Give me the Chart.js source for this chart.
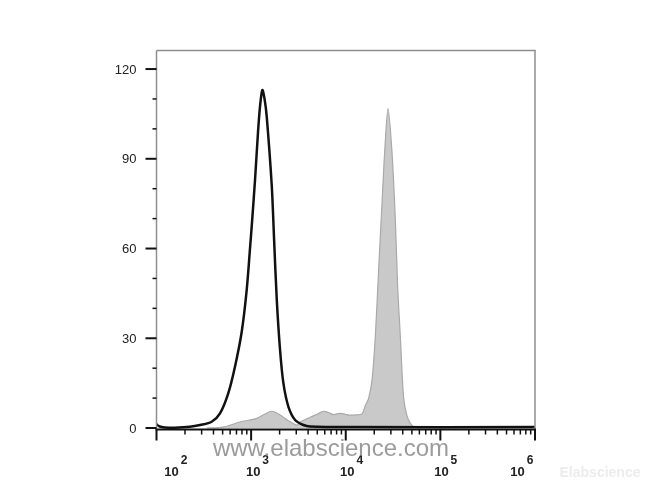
<!DOCTYPE html>
<html>
<head>
<meta charset="utf-8">
<script src="https://cdn.jsdelivr.net/npm/chart.js@4.4.1/dist/chart.umd.min.js"></script>
<style>
  html, body { margin: 0; padding: 0; background: #fff; }
  #wrap { width: 666px; height: 500px; }
</style>
</head>
<body>
<div id="wrap"><canvas id="histChart" width="666" height="500"></canvas></div>
<script>
// isotype control (black outline) - fluorescence intensity vs count
const controlX = [100, 108, 122, 156, 225, 289, 383, 469, 573, 675, 794, 897, 973, 1023, 1100, 1183, 1242, 1314, 1387, 1463, 1652, 1749, 1866, 2023, 2193, 2479, 2917, 3573, 4207, 11170, 1000000];
const controlY = [1.2, 0.5, 0.2, 0.1, 0.4, 1.0, 2.1, 4.9, 11.6, 20.5, 32, 46, 60, 69, 83, 99, 107.5, 113, 110, 104, 81, 63, 43, 26, 15, 7.1, 2.7, 1.0, 0.5, 0.3, 0.3];

// stained sample (grey filled)
const stainedX = [339, 504, 762, 1146, 1371, 1652, 1977, 2383, 2799, 3062, 3296, 4207, 4989, 5823, 6530, 7433, 8750, 9890, 11170, 12900, 14850, 16110, 17460, 18960, 20530, 22250, 24160, 25760, 27980, 30840, 33430, 35370, 37760, 40930, 44430, 48180, 52240, 61500];
const stainedY = [0, 0.3, 2.0, 3.2, 4.5, 5.6, 4.6, 2.8, 1.5, 1.0, 2.0, 3.6, 4.6, 5.6, 5.2, 4.5, 4.9, 4.6, 4.3, 4.4, 4.7, 7.5, 10, 16, 30.5, 52.8, 75, 92, 106.8, 92, 69.5, 47.2, 30.5, 10, 4.0, 1.6, 0.4, 0];

const yTickLabels = [0, 30, 60, 90, 120];
const yMinorTicks = [10, 20, 40, 50, 70, 80, 100, 110];
const xDecades = [2, 3, 4, 5, 6];

const FONT = '"Liberation Sans", Arial, Helvetica, sans-serif';

const toPoints = (xs, ys) => xs.map((x, i) => ({ x: x, y: ys[i] }));

const axisDecor = {
  id: 'axisDecor',
  afterDraw(chart) {
    const { ctx, chartArea: a, scales: { x, y } } = chart;
    ctx.save();

    // top / right frame
    ctx.strokeStyle = '#8e8e8e';
    ctx.lineWidth = 1.5;
    ctx.beginPath();
    ctx.moveTo(a.left, a.top);
    ctx.lineTo(a.right, a.top);
    ctx.lineTo(a.right, a.bottom);
    ctx.stroke();

    // left axis
    ctx.beginPath();
    ctx.moveTo(a.left, a.top);
    ctx.lineTo(a.left, a.bottom);
    ctx.stroke();

    // bottom axis
    ctx.strokeStyle = '#111';
    ctx.lineWidth = 2;
    ctx.beginPath();
    ctx.moveTo(a.left - 1, a.bottom);
    ctx.lineTo(a.right + 1, a.bottom);
    ctx.stroke();

    // y ticks
    ctx.strokeStyle = '#111';
    yTickLabels.forEach(v => {
      const py = y.getPixelForValue(v);
      ctx.lineWidth = 2;
      ctx.beginPath();
      ctx.moveTo(a.left - 11, py);
      ctx.lineTo(a.left, py);
      ctx.stroke();
    });
    yMinorTicks.forEach(v => {
      const py = y.getPixelForValue(v);
      ctx.lineWidth = 1.5;
      ctx.beginPath();
      ctx.moveTo(a.left - 4, py);
      ctx.lineTo(a.left, py);
      ctx.stroke();
    });

    ctx.fillStyle = '#222';
    ctx.font = '13px ' + FONT;
    ctx.textAlign = 'right';
    ctx.textBaseline = 'middle';
    yTickLabels.forEach(v => {
      ctx.fillText(String(v), a.left - 20, y.getPixelForValue(v) + 1);
    });

    // x ticks (log decades + minors)
    xDecades.forEach((d, i) => {
      const px = x.getPixelForValue(Math.pow(10, d));
      ctx.lineWidth = 2;
      ctx.beginPath();
      ctx.moveTo(px, a.bottom);
      ctx.lineTo(px, a.bottom + 11);
      ctx.stroke();
      if (i < xDecades.length - 1) {
        for (let m = 2; m <= 9; m++) {
          const mx = x.getPixelForValue(m * Math.pow(10, d));
          ctx.lineWidth = 1.5;
          ctx.beginPath();
          ctx.moveTo(mx, a.bottom);
          ctx.lineTo(mx, a.bottom + 5);
          ctx.stroke();
        }
      }
    });

    // x labels 10^n
    const shift = [15, 2, 1.5, 1, -17.5];
    ctx.textBaseline = 'alphabetic';
    xDecades.forEach((d, i) => {
      const cx = x.getPixelForValue(Math.pow(10, d)) + shift[i];
      ctx.font = 'bold 13px ' + FONT;
      ctx.textAlign = 'center';
      ctx.fillText('10', cx, a.bottom + 46);
      const w = ctx.measureText('10').width;
      ctx.font = 'bold 12px ' + FONT;
      ctx.textAlign = 'left';
      ctx.fillText(String(d), cx + w / 2 + 2, a.bottom + 34);
    });

    // watermarks
    ctx.font = '24px ' + FONT;
    ctx.textAlign = 'center';
    ctx.fillStyle = 'rgba(130,130,130,0.8)';
    ctx.fillText('www.elabscience.com', 331, 456);

    ctx.font = 'bold 14px ' + FONT;
    ctx.fillStyle = '#ececec';
    ctx.fillText('Elabscience', 600, 477);

    ctx.restore();
  }
};

new Chart(document.getElementById('histChart').getContext('2d'), {
  type: 'line',
  data: {
    datasets: [
      {
        label: 'Control',
        data: toPoints(controlX, controlY),
        borderColor: '#111',
        borderWidth: 2.5,
        fill: false,
        pointRadius: 0,
        tension: 0.3,
        order: 1
      },
      {
        label: 'Stained',
        data: toPoints(stainedX, stainedY),
        borderColor: '#a9a9a9',
        borderWidth: 1.2,
        backgroundColor: '#c9c9c9',
        fill: 'origin',
        pointRadius: 0,
        tension: 0.3,
        order: 2
      }
    ]
  },
  options: {
    responsive: false,
    animation: false,
    devicePixelRatio: 1,
    layout: { padding: { left: 0, top: 50.5, right: 131, bottom: 0 } },
    plugins: { legend: { display: false }, tooltip: { enabled: false } },
    scales: {
      x: {
        type: 'logarithmic',
        min: 100,
        max: 1000000,
        grid: { display: false },
        border: { display: false },
        ticks: { display: false },
        afterFit(s) { s.height = 70.5; }
      },
      y: {
        type: 'linear',
        min: -0.5,
        max: 126.2,
        grid: { display: false },
        border: { display: false },
        ticks: { display: false },
        afterFit(s) { s.width = 156.5; }
      }
    }
  },
  plugins: [axisDecor]
});
</script>
</body>
</html>
